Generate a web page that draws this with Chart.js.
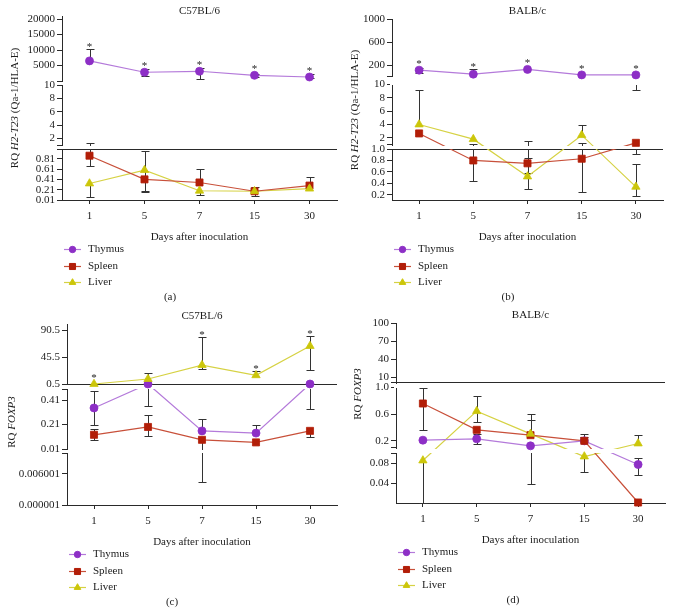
<!DOCTYPE html>
<html>
<head>
<meta charset="utf-8">
<title>RQ H2-T23 and FOXP3 after inoculation</title>
<script src="https://cdn.jsdelivr.net/npm/chart.js@4.4.1/dist/chart.umd.min.js"></script>
<style>
  html, body { margin: 0; padding: 0; background: #fff; }
  #figure { position: relative; width: 673px; height: 611px; overflow: hidden; background: #fff; }
  #figure canvas { position: absolute; }
</style>
</head>
<body>
<div id="figure">
  <canvas id="panelA" width="340" height="305" style="left:0;top:0"></canvas>
  <canvas id="panelB" width="343" height="305" style="left:330px;top:0"></canvas>
  <canvas id="panelC" width="340" height="306" style="left:0;top:305px"></canvas>
  <canvas id="panelD" width="343" height="306" style="left:330px;top:305px"></canvas>
</div>
<script>
const days = ['1', '5', '7', '15', '30'];

// (a) RQ H2-T23, C57BL/6
const thymusA = [6500, 2830, 3150, 1850, 1300];
const thymusALow = [null, 1530, 560, 1450, 900];
const thymusAHigh = [10370, 3900, 4100, 2280, 2180];
const spleenA = [0.87, 0.41, 0.35, 0.18, 0.29];
const spleenALow = [0.67, 0.19, null, 0.09, null];
const spleenAHigh = [1.35, null, 0.61, 0.26, 0.46];
const liverA = [0.33, 0.59, 0.19, 0.18, 0.23];
const liverALow = [0.075, 0.17, 0.1, null, null];
const liverAHigh = [null, 0.97, null, null, null];
const starsA = [0, 1, 2, 3, 4];

// (b) RQ H2-T23, BALB/c
const thymusB = [112, 42, 125, 29, 29];
const thymusBLow = [65, null, null, null, 9.25];
const thymusBHigh = [153, 135, null, null, null];
const spleenB = [2.66, 0.8, 0.75, 0.83, 1.25];
const spleenBLow = [null, 0.45, 0.58, 0.245, 0.91];
const spleenBHigh = [null, 1.15, 0.84, 1.16, null];
const liverB = [4.0, 1.8, 0.52, 2.4, 0.34];
const liverBLow = [null, null, 0.31, null, 0.18];
const liverBHigh = [9.25, null, 1.6, 3.9, 0.73];
const starsB = [0, 1, 2, 3, 4];

// (c) RQ FOXP3, C57BL/6
const thymusC = [0.345, 0.5, 0.158, 0.14, 0.5];
const thymusCLow = [0.207, 0.36, null, null, 0.34];
const thymusCHigh = [0.48, null, 0.258, 0.21, null];
const spleenC = [0.126, 0.19, 0.085, 0.064, 0.158];
const spleenCLow = [0.08, 0.118, 0.0044, null, 0.104];
const spleenCHigh = [0.17, 0.288, null, null, null];
const liverC = [0.5, 8.8, 32, 15, 63.8];
const liverCLow = [null, null, 25, null, 23.8];
const liverCHigh = [null, 18.3, 79, 21.6, 81];
const starsC = [0, 2, 3, 4];

// (d) RQ FOXP3, BALB/c
const thymusD = [0.21, 0.23, 0.125, 0.2, 0.077];
const thymusDLow = [null, 0.16, 0.038, null, 0.056];
const thymusDHigh = [null, 0.3, null, 0.3, 0.09];
const spleenD = [0.76, 0.365, 0.285, 0.2, 0.001];
const spleenDLow = [0.36, null, null, null, null];
const spleenDHigh = [0.99, null, 0.51, 0.255, null];
const liverD = [0.085, 0.645, 0.305, 0.093, 0.16];
const liverDLow = [0.0005, 0.485, null, 0.063, null];
const liverDHigh = [null, 0.87, 0.6, null, 0.285];
const starsD = [];

// broken y axes: segments top to bottom, [min, max], tick values and labels
const rangesA = [[10, 21000], [1, 10], [0.01, 1]];
const ticksA = [[10, 5000, 10000, 15000, 20000], [1, 2, 4, 6, 8, 10], [0.01, 0.21, 0.41, 0.61, 0.81, 1]];
const tickLabelsA = [['', '5000', '10000', '15000', '20000'], ['', '2', '4', '6', '8', '10'], ['0.01', '0.21', '0.41', '0.61', '0.81', '']];

const rangesB = [[10, 1000], [1, 10], [0.11, 1]];
const ticksB = [[10, 200, 600, 1000], [1, 2, 4, 6, 8, 10], [0.2, 0.4, 0.6, 0.8, 1]];
const tickLabelsB = [['', '200', '600', '1000'], ['', '2', '4', '6', '8', '10'], ['0.2', '0.4', '0.6', '0.8', '1.0']];

const rangesC = [[0.5, 100.5], [0.01, 0.5], [0.000001, 0.01]];
const ticksC = [[0.5, 45.5, 90.5], [0.01, 0.21, 0.41, 0.5], [0.000001, 0.006001, 0.01]];
const tickLabelsC = [['0.5', '45.5', '90.5'], ['0.01', '0.21', '0.41', ''], ['0.000001', '0.006001', '']];

const rangesD = [[1, 100], [0.1, 1], [0, 0.1]];
const ticksD = [[1, 10, 40, 70, 100], [0.1, 0.2, 0.6, 1], [0.04, 0.08, 0.1]];
const tickLabelsD = [['', '10', '40', '70', '100'], ['', '0.2', '0.6', '1.0'], ['0.04', '0.08', '']];

const AXIS = '#2a2a2a';
const TEXT = '#1c1c1c';
const FONT = '"Liberation Serif", "Times New Roman", serif';

const seriesStyle = [
    { name: 'Thymus', pointStyle: 'circle', radius: 4, legendRadius: 3.2, color: '#8d2fc6', line: '#b47ada' },
    { name: 'Spleen', pointStyle: 'rect', radius: 5, legendRadius: 4.3, color: '#b21e08', line: '#c8503a' },
    { name: 'Liver', pointStyle: 'triangle', radius: 4.8, legendRadius: 3.8, color: '#ccc60a', line: '#d6d244' }
];

const panels = [
    {
        canvas: 'panelA', title: 'C57BL/6', caption: '(a)', gene: 'H2-T23', suffix: ' (Qa-1/HLA-E)',
        data: [[thymusA, thymusALow, thymusAHigh], [spleenA, spleenALow, spleenAHigh], [liverA, liverALow, liverAHigh]],
        ranges: rangesA, ticks: ticksA, tickLabels: tickLabelsA, rule: [2, 1],
        starSeries: 0, stars: starsA,
        pad: { left: 20, right: 3, top: 16, bottom: 61 }, yWidth: 42,
        bands: [65, 4, 60, 4, 51], yTitleAt: [15, 108], titleY: 11, captionX: 170
    },
    {
        canvas: 'panelB', title: 'BALB/c', caption: '(b)', gene: 'H2-T23', suffix: ' (Qa-1/HLA-E)',
        data: [[thymusB, thymusBLow, thymusBHigh], [spleenB, spleenBLow, spleenBHigh], [liverB, liverBLow, liverBHigh]],
        ranges: rangesB, ticks: ticksB, tickLabels: tickLabelsB, rule: [2, 1],
        starSeries: 0, stars: starsB,
        pad: { left: 30, right: 10, top: 19, bottom: 61 }, yWidth: 32,
        bands: [57, 8.5, 60, 4.5, 51], yTitleAt: [25, 110], titleY: 11, captionX: 178
    },
    {
        canvas: 'panelC', title: 'C57BL/6', caption: '(c)', gene: 'FOXP3', suffix: '',
        data: [[thymusC, thymusCLow, thymusCHigh], [spleenC, spleenCLow, spleenCHigh], [liverC, liverCLow, liverCHigh]],
        ranges: rangesC, ticks: ticksC, tickLabels: tickLabelsC, rule: [0, 0.5],
        starSeries: 2, stars: starsC,
        pad: { left: 3, right: 3, top: 19, bottom: 62 }, yWidth: 64,
        bands: [60, 5, 60, 4, 52], yTitleAt: [12, 117], titleY: 11, captionX: 172
    },
    {
        canvas: 'panelD', title: 'BALB/c', caption: '(d)', gene: 'FOXP3', suffix: '',
        data: [[thymusD, thymusDLow, thymusDHigh], [spleenD, spleenDLow, spleenDHigh], [liverD, liverDLow, liverDHigh]],
        ranges: rangesD, ticks: ticksD, tickLabels: tickLabelsD, rule: [0, 1],
        starSeries: 0, stars: starsD,
        pad: { left: 34, right: 8, top: 18, bottom: 64 }, yWidth: 32,
        bands: [59.5, 5, 60, 5.5, 50], yTitleAt: [28, 89], titleY: 10, captionX: 183
    }
];
const panelByCanvas = {};
panels.forEach(p => { panelByCanvas[p.canvas] = p; });

Chart.defaults.font.family = FONT;
Chart.defaults.font.size = 11;
Chart.defaults.color = TEXT;

// Linear scale split into stacked segments with gaps (axis breaks)
class BrokenScale extends Chart.LinearScale {
    get panel() { return panelByCanvas[this.chart.canvas.id]; }

    determineDataLimits() {
        const r = this.panel.ranges;
        this.min = r[r.length - 1][0];
        this.max = r[0][1];
    }

    buildTicks() {
        const p = this.panel, out = [];
        for (let k = p.ranges.length - 1; k >= 0; k--) {
            p.ticks[k].forEach((v, i) => {
                out.push({ value: v, seg: k, text: p.tickLabels[k][i], rule: p.rule[0] === k && p.rule[1] === v });
            });
        }
        return out;
    }

    band(k) {
        const b = this.panel.bands;
        const total = b.reduce((s, h) => s + h, 0);
        const unit = (this.bottom - this.top) / total;
        let top = this.top;
        for (let j = 0; j < k; j++) top += (b[2 * j] + b[2 * j + 1]) * unit;
        return [top, top + b[2 * k] * unit];
    }

    segmentOf(v) {
        const r = this.panel.ranges;
        for (let k = 0; k < r.length; k++) {
            if (v >= r[k][0] && v <= r[k][1]) return k;
        }
        return v > r[0][1] ? 0 : r.length - 1;
    }

    pixelIn(v, k) {
        const [lo, hi] = this.panel.ranges[k];
        const [top, bottom] = this.band(k);
        return bottom - (v - lo) / (hi - lo) * (bottom - top);
    }

    getPixelForValue(v) {
        if (v === null || v === undefined || isNaN(v)) return NaN;
        return this.pixelIn(v, this.segmentOf(v));
    }

    getPixelForTick(i) {
        const t = this.ticks[i];
        return t ? this.pixelIn(t.value, t.seg) : NaN;
    }

    getValueForPixel(px) {
        const r = this.panel.ranges;
        for (let k = 0; k < r.length; k++) {
            const [top, bottom] = this.band(k);
            if (px >= top && px <= bottom) return r[k][0] + (bottom - px) / (bottom - top) * (r[k][1] - r[k][0]);
        }
        return this.min;
    }
}
BrokenScale.id = 'broken';
Chart.register(BrokenScale);

function drawErrorBars(chart) {
    const p = panelByCanvas[chart.canvas.id];
    const { ctx, scales: { x, y } } = chart;
    ctx.save();
    ctx.strokeStyle = '#333';
    ctx.lineWidth = 1;
    p.data.forEach(([vals, lows, highs]) => {
        vals.forEach((v, i) => {
            const px = Math.round(x.getPixelForValue(i)) + 0.5;
            const py = y.getPixelForValue(v);
            [lows[i], highs[i]].forEach(e => {
                if (e === null || e === undefined) return;
                const pe = Math.round(y.getPixelForValue(e)) + 0.5;
                ctx.beginPath();
                ctx.moveTo(px, py);
                ctx.lineTo(px, pe);
                ctx.moveTo(px - 4, pe);
                ctx.lineTo(px + 4, pe);
                ctx.stroke();
            });
        });
    });
    ctx.restore();
}

// white out the gaps between axis segments (lines and whiskers pass behind)
function maskGaps(chart) {
    const y = chart.scales.y, a = chart.chartArea, ctx = chart.ctx;
    ctx.save();
    ctx.fillStyle = '#fff';
    for (let k = 0; k < y.panel.ranges.length - 1; k++) {
        const y0 = Math.round(y.band(k)[1]) + 1;
        const y1 = Math.round(y.band(k + 1)[0]);
        if (y1 > y0) ctx.fillRect(a.left - 2, y0, a.right - a.left + 3, y1 - y0);
    }
    ctx.restore();
}

function drawStars(chart) {
    const p = panelByCanvas[chart.canvas.id];
    if (!p.stars.length) return;
    const { ctx, scales: { x, y } } = chart;
    const [vals, , highs] = p.data[p.starSeries];
    ctx.save();
    ctx.fillStyle = TEXT;
    ctx.font = '11px ' + FONT;
    ctx.textAlign = 'center';
    ctx.textBaseline = 'alphabetic';
    p.stars.forEach(i => {
        let anchor = y.getPixelForValue(vals[i]) - 4;
        if (highs[i] !== null) anchor = Math.min(anchor, y.getPixelForValue(highs[i]));
        ctx.fillText('*', x.getPixelForValue(i), anchor + 1);
    });
    ctx.restore();
}

function drawDecor(chart) {
    const p = panelByCanvas[chart.canvas.id];
    const { ctx, chartArea: a } = chart;
    ctx.save();
    ctx.fillStyle = TEXT;
    ctx.font = '11px ' + FONT;
    ctx.textBaseline = 'middle';
    ctx.textAlign = 'center';
    ctx.fillText(p.title, (a.left + a.right) / 2, p.titleY);
    ctx.fillText(p.caption, p.captionX, a.bottom + 97);

    // y title, gene symbol in italics
    const parts = [['RQ ', ''], [p.gene, 'italic '], [p.suffix, '']];
    let total = 0;
    parts.forEach(pt => { ctx.font = pt[1] + '11px ' + FONT; pt.push(ctx.measureText(pt[0]).width); total += pt[2]; });
    ctx.save();
    ctx.translate(p.yTitleAt[0], p.yTitleAt[1]);
    ctx.rotate(-Math.PI / 2);
    ctx.textAlign = 'left';
    let tx = -total / 2;
    parts.forEach(pt => {
        ctx.font = pt[1] + '11px ' + FONT;
        ctx.fillText(pt[0], tx, 0);
        tx += pt[2];
    });
    ctx.restore();

    // legend
    ctx.font = '11px ' + FONT;
    ctx.textAlign = 'left';
    seriesStyle.forEach((st, i) => {
        const ly = Math.round(a.bottom + 49 + i * 16.5) + 0.5;
        const lx = a.left + 2;
        ctx.strokeStyle = st.line;
        ctx.lineWidth = 1.2;
        ctx.beginPath();
        ctx.moveTo(lx, ly);
        ctx.lineTo(lx + 17, ly);
        ctx.stroke();
        ctx.fillStyle = st.color;
        ctx.strokeStyle = st.color;
        ctx.lineWidth = 1;
        Chart.helpers.drawPoint(ctx, { pointStyle: st.pointStyle, radius: st.legendRadius, rotation: 0, borderWidth: 1 }, lx + 8.5, ly);
        ctx.fillStyle = TEXT;
        ctx.fillText(st.name, lx + 24, ly);
    });
    ctx.restore();
}

const brokenAxisPlugin = {
    id: 'brokenAxis',
    beforeDatasetsDraw(chart) {
        chart.$masked = false;
        drawErrorBars(chart);
    },
    beforeDatasetDraw(chart, args) {
        if (!chart.$masked && chart.data.datasets[args.index].isMarker) {
            maskGaps(chart);
            chart.$masked = true;
        }
    },
    afterDatasetsDraw(chart) {
        if (!chart.$masked) maskGaps(chart);
        drawStars(chart);
    },
    afterDraw(chart) {
        drawDecor(chart);
    }
};

panels.forEach(p => {
    const datasets = [];
    p.data.forEach((d, si) => {
        const st = seriesStyle[si];
        datasets.push({
            label: st.name, data: d[0], borderColor: st.line, borderWidth: 1.2,
            pointRadius: 0, fill: false, tension: 0, order: 10 + si
        });
    });
    p.data.forEach((d, si) => {
        const st = seriesStyle[si];
        datasets.push({
            label: st.name, isMarker: true, data: d[0], showLine: false,
            pointStyle: st.pointStyle, pointRadius: st.radius,
            pointBackgroundColor: st.color, pointBorderColor: st.color, pointBorderWidth: 0.8,
            order: 3 - si, clip: false
        });
    });

    new Chart(document.getElementById(p.canvas), {
        type: 'line',
        data: { labels: days, datasets: datasets },
        options: {
            responsive: false,
            animation: false,
            events: [],
            layout: { padding: p.pad, autoPadding: false },
            plugins: { legend: { display: false }, tooltip: { enabled: false } },
            scales: {
                x: {
                    type: 'category', offset: true,
                    afterFit: s => { s.height = 44; },
                    grid: { drawOnChartArea: false, tickLength: 4, color: AXIS },
                    border: { color: AXIS, width: 1 },
                    ticks: { padding: 6, maxRotation: 0, autoSkip: false, color: TEXT },
                    title: { display: true, text: 'Days after inoculation', padding: 0, color: TEXT }
                },
                y: {
                    type: 'broken', position: 'left',
                    afterFit: s => { s.width = p.yWidth; },
                    ticks: { autoSkip: false, padding: 2, color: TEXT, callback: (v, i, ts) => ts[i].text },
                    grid: {
                        drawOnChartArea: true, tickLength: 5, tickColor: AXIS,
                        color: c => (c.tick && c.tick.rule) ? AXIS : 'rgba(0,0,0,0)'
                    },
                    border: { color: AXIS, width: 1 }
                }
            }
        },
        plugins: [brokenAxisPlugin]
    });
});
</script>
</body>
</html>
